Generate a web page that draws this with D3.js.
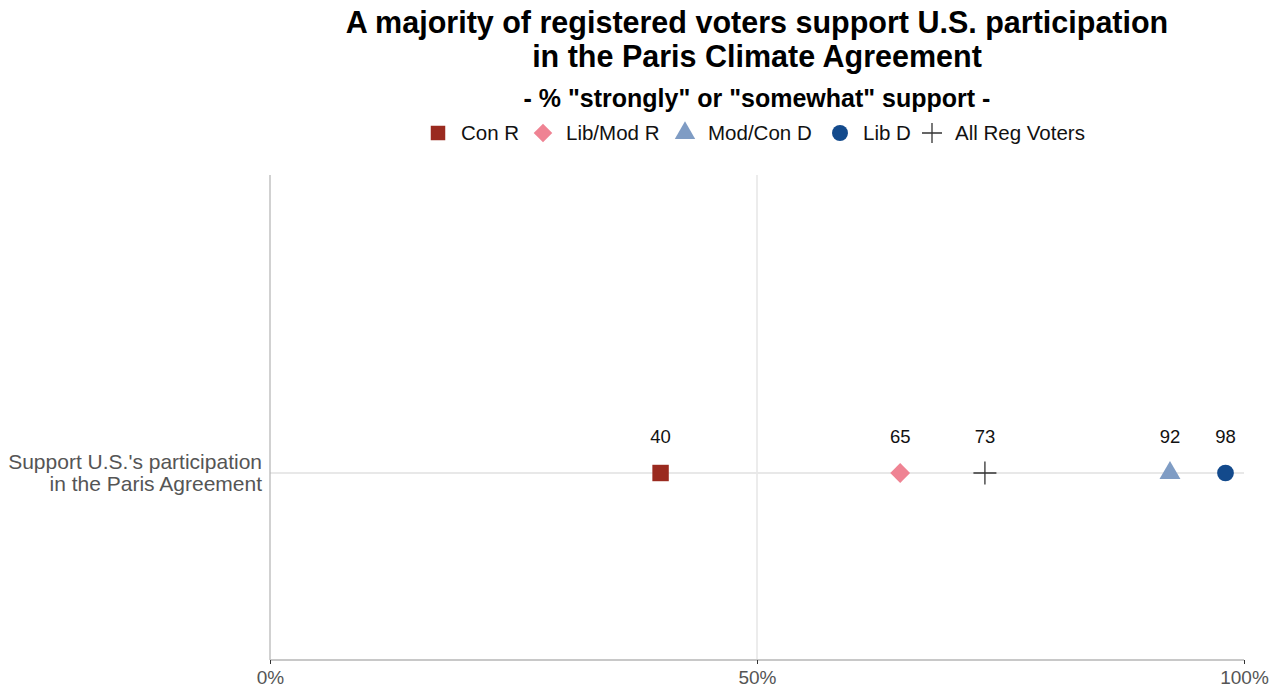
<!DOCTYPE html>
<html><head><meta charset="utf-8">
<script src="https://cdn.jsdelivr.net/npm/d3@7"></script>
<style>body{margin:0;background:#fff}svg{display:block}text{font-family:"Liberation Sans",Arial,sans-serif}</style>
</head><body>
<svg id="c" width="1281" height="692"></svg>
<script>
const categories = ["Support U.S.'s participation\nin the Paris Agreement"];
const groups = ["Con R","Lib/Mod R","Mod/Con D","Lib D","All Reg Voters"];
const values = [40.1,64.7,92.4,98.1,73.4];
const colors = ["#9a2a1f","#ef8393","#7f9cc4","#134a8c","#333333"];
const shapes = ["square","diamond","triangle","circle","plus"];
const tickValues = [0,50,100];
const tickLabels = ["0%","50%","100%"];

const svg = d3.select("#c");
const m = {l:270, r:1244, t:175, b:660};
const x = d3.scaleLinear().domain([0,100]).range([m.l,m.r]);
const y = d3.scaleBand().domain(categories).range([286,m.b]).paddingInner(0).paddingOuter(0);

// gridlines
svg.append("g").selectAll("line").data([50]).join("line")
  .attr("x1",d=>x(d)).attr("x2",d=>x(d)).attr("y1",m.t).attr("y2",m.b)
  .attr("stroke","#d9d9d9").attr("stroke-width",1);
svg.append("g").selectAll("line").data(categories).join("line")
  .attr("x1",m.l).attr("x2",m.r).attr("y1",d=>y(d)+y.bandwidth()/2).attr("y2",d=>y(d)+y.bandwidth()/2)
  .attr("stroke","#e8e8e8").attr("stroke-width",2);

// y axis line
svg.append("line").attr("x1",m.l).attr("x2",m.l).attr("y1",m.t).attr("y2",m.b)
  .attr("stroke","#b3b3b3").attr("stroke-width",1.2);

// x axis
const xa = svg.append("g").attr("transform",`translate(0,${m.b})`)
  .call(d3.axisBottom(x).tickValues(tickValues).tickFormat((d,i)=>tickLabels[i]).tickSize(4).tickPadding(7));
xa.select(".domain").attr("stroke","#c8c8c8").attr("stroke-width",2).attr("d",`M${m.l},0H${m.r}`);
xa.selectAll(".tick line").attr("stroke","#333");
xa.selectAll(".tick text").attr("font-size",19).attr("fill","#555").attr("font-family","Liberation Sans, Arial, sans-serif");

// y labels
categories.forEach(c=>{
  const lines = c.split("\n");
  const cy = y(c)+y.bandwidth()/2;
  const t = svg.append("text").attr("text-anchor","end").attr("fill","#555").attr("font-size",21);
  lines.forEach((ln,i)=>t.append("tspan").attr("x",262).attr("y",cy+(i-(lines.length-1)/2)*22+7).text(ln));
});

function sym(s, sz){
  const map = {square:d3.symbolSquare, diamond:d3.symbolDiamond2, triangle:d3.symbolTriangle, circle:d3.symbolCircle, plus:d3.symbolPlus};
  return d3.symbol().type(map[s]).size(sz)();
}
function drawShape(g, s, col){
  if(s==="plus"){
    g.append("path").attr("d","M-11.5,0H11.5M0,-11.5V11.5").attr("stroke",col).attr("stroke-width",1.3).attr("fill","none");
  } else {
    const sz = {square:270, diamond:250, triangle:190, circle:220}[s];
    g.append("path").attr("d",sym(s,sz)).attr("fill",col);
  }
}

// points
const cy0 = y(categories[0])+y.bandwidth()/2;
groups.forEach((gname,i)=>{
  const g = svg.append("g").attr("transform",`translate(${x(values[i])},${cy0})`);
  drawShape(g, shapes[i], colors[i]);
  svg.append("text").attr("x",x(values[i])).attr("y",cy0-30).attr("text-anchor","middle")
    .attr("font-size",18.5).attr("fill","#111").text(Math.round(values[i]));
});

// title
const cx = (m.l+m.r)/2;
svg.append("text").attr("x",cx).attr("y",33).attr("text-anchor","middle").attr("font-size",30.5).attr("font-weight","bold").attr("fill","#000")
  .text("A majority of registered voters support U.S. participation");
svg.append("text").attr("x",cx).attr("y",67).attr("text-anchor","middle").attr("font-size",30.5).attr("font-weight","bold").attr("fill","#000")
  .text("in the Paris Climate Agreement");
svg.append("text").attr("x",cx).attr("y",107).attr("text-anchor","middle").attr("font-size",25).attr("font-weight","bold").attr("fill","#000")
  .text('- % "strongly" or "somewhat" support -');

// legend
const legX = [438,543,685,840,932];
groups.forEach((gname,i)=>{
  const g = svg.append("g").attr("transform",`translate(${legX[i]},133)`);
  if(shapes[i]==="plus"){
    g.append("path").attr("d","M-10,0H10M0,-10V10").attr("stroke",colors[i]).attr("stroke-width",1.3);
  } else {
    const sz = {square:210, diamond:220, triangle:180, circle:200}[shapes[i]];
    g.append("path").attr("d",sym(shapes[i],sz)).attr("fill",colors[i]);
  }
  svg.append("text").attr("x",legX[i]+23).attr("y",140).attr("font-size",20.5).attr("fill","#111").text(gname);
});
</script>
</body></html>
